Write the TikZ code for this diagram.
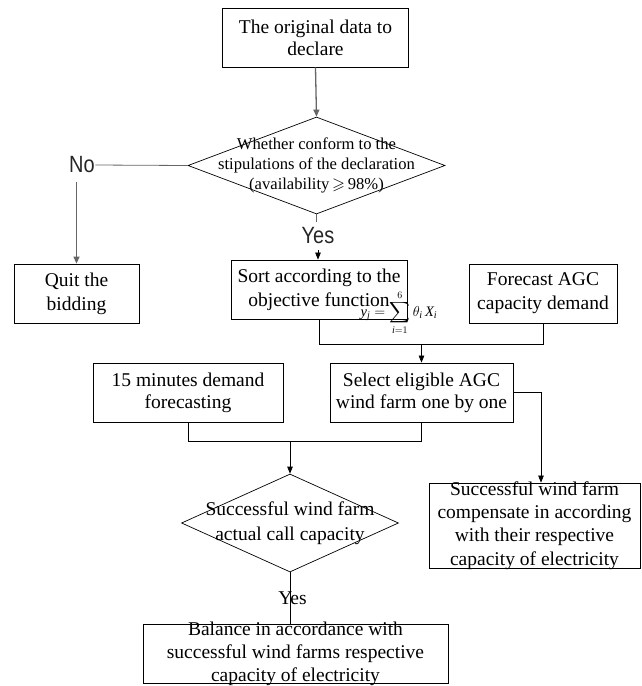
\documentclass[tikz,border=0pt]{standalone}
\usepackage{amssymb}
\usepackage{fontspec}
\setmainfont{Liberation Serif}
\newfontfamily\lblfont{Liberation Sans}[FakeStretch=0.85]
\usetikzlibrary{shapes.geometric,arrows.meta}
\begin{document}
\begin{tikzpicture}[x=1pt,y=-1pt,
  box/.style={draw, line width=0.8pt, inner sep=0pt, minimum width=#1},
  dia/.style={draw, diamond, line width=0.7pt, inner sep=0pt},
  txt/.style={align=center, inner sep=0pt, font=\fontsize{19.5}{#1}\selectfont},
  txt/.default=22,
  lbl/.style={inner xsep=0.5pt, font=\lblfont\fontsize{23.5}{26}\selectfont, text=black!85},
  conn/.style={line width=0.7pt},
  arr/.style={line width=0.7pt, -{Triangle[length=7pt,width=5.5pt]}},
  grayarr/.style={line width=1.3pt, black!60, -{Triangle[length=7pt,width=6pt]}},
  grayline/.style={line width=0.8pt, black!60}]
\useasboundingbox (0,0) rectangle (641,686);

% shapes
\node[box=186pt, minimum height=59pt] (start) at (315.5,37.5) {};
\node[dia, minimum width=257pt, minimum height=97pt] (d1) at (316.5,165.5) {};
\node[box=125pt, minimum height=59pt] (quit) at (76.5,293.5) {};
\node[box=176pt, minimum height=59pt] (sort) at (319,289.5) {};
\node[box=148pt, minimum height=59pt] (fore) at (543,293.5) {};
\node[box=190pt, minimum height=59pt] (min15) at (188,392.5) {};
\node[box=183pt, minimum height=59pt] (select) at (421.5,392.5) {};
\node[dia, minimum width=217pt, minimum height=98pt] (d2) at (290,523) {};
\node[box=211pt, minimum height=85pt] (succ) at (534.5,525.5) {};
\node[box=305pt, minimum height=59pt] (bal) at (295.5,653.5) {};

% texts
\node[txt] (tstart) at (start.center) {The original data to\\declare};
\node[align=center, inner sep=0pt, font=\fontsize{16.6}{20}\selectfont] (td1) at (d1.center)
  {Whether conform to the\\stipulations of the declaration\\(availability\,$\geqslant$\,98\%)};
\node[txt=24] (tquit) at (quit.center) {Quit the\\bidding};
\node[txt=24] (tsort) at (sort.center) {Sort according to the\\objective function};
\node[txt=24] (tfore) at (fore.center) {Forecast AGC\\capacity demand};
\node[inner sep=0pt] (formula) at (399,313)
  {\fontsize{14.5}{16}\selectfont$\displaystyle \mathit{y}_{\mathit{j}}=\sum_{\mathit{i}=1}^{6}\theta_{\mathit{i}}\,\mathit{X}_{\mathit{i}}$};
\node[txt] (tmin15) at (min15.center) {15 minutes demand\\forecasting};
\node[txt] (tselect) at (select.center) {Select eligible AGC\\wind farm one by one};
\node[txt=25] (td2) at (d2.center) {Successful wind farm\\actual call capacity};
\node[txt=23.3] (tsucc) at (succ.center)
  {Successful wind farm\\compensate in according\\with their respective\\capacity of electricity};
\node[txt=23] (tbal) at (bal.center)
  {Balance in accordance with\\successful wind farms respective\\capacity of electricity};

% labels
\node[lbl, inner ysep=8.5pt] (no) at (82,165) {No};
\node[lbl, inner ysep=6pt] (yes1) at (318,236) {Yes};

% level coordinates
\coordinate (lvl1) at (0,344);
\coordinate (lvl2) at (0,441);

% connectors
\draw[grayarr] (start.south) -- (d1.north);
\draw[grayline] (d1.west) -- (no.east);
\draw[grayarr] (quit.north |- no.south) -- (quit.north);
\draw[grayline] (d1.south) -- (d1.south |- yes1.north);
\draw[arr] (yes1.south) -- (yes1.south |- sort.north);
\draw[conn] (sort.south) -- (sort.south |- lvl1) -| (fore.south);
\draw[arr] (select.north |- lvl1) -- (select.north);
\draw[conn] (min15.south) -- (min15.south |- lvl2) -| (select.south);
\draw[arr] (d2.north |- lvl2) -- (d2.north);
\draw[arr] (select.east) -| ([xshift=6.5pt]succ.north);
\draw[conn] (d2.south) -- (d2.south |- bal.north);
\node[txt] (yes2) at (292.5,598) {Yes};
\end{tikzpicture}
\end{document}
